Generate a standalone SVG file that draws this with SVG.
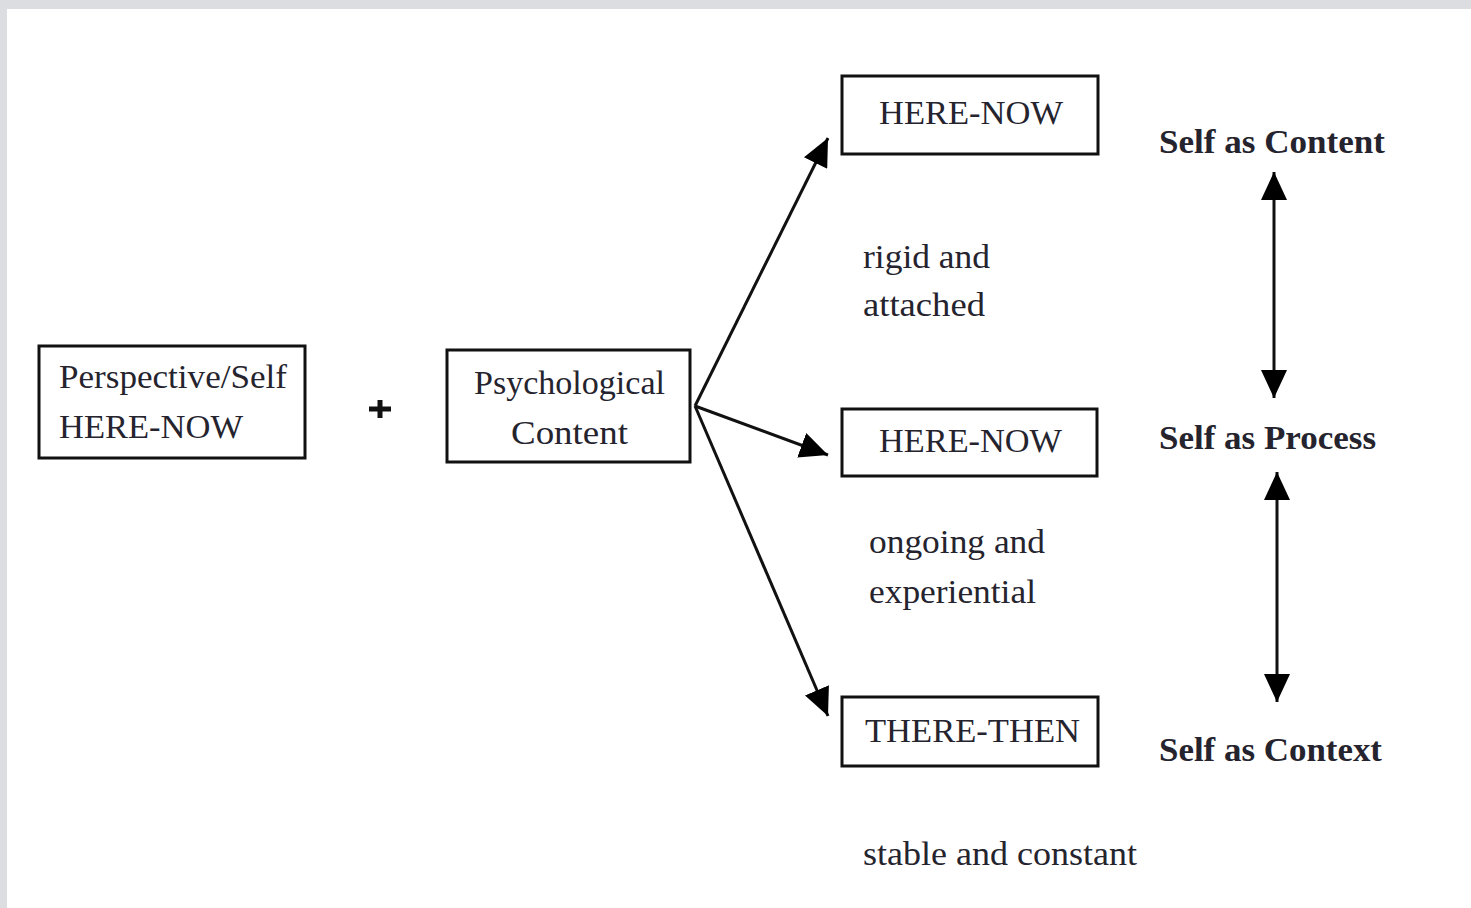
<svg xmlns="http://www.w3.org/2000/svg" width="1471" height="908" viewBox="0 0 1471 908">
<style>
.box{fill:#fff;stroke:#111;stroke-width:3}
.t{font-family:"Liberation Serif","Times New Roman",serif;font-size:33px;fill:#25242e}
.b{font-family:"Liberation Serif","Times New Roman",serif;font-size:33px;font-weight:bold;fill:#25242e}
.c{stroke:#111;stroke-width:3;fill:none}
</style>
<defs>
<marker id="ah" markerUnits="userSpaceOnUse" markerWidth="30" markerHeight="26" viewBox="0 0 30 26" refX="28" refY="13" orient="auto-start-reverse">
<path d="M0,0 L28,13 L0,26 Z" fill="#000"/>
</marker>
</defs>
<rect x="0" y="0" width="1471" height="908" fill="#dcdde1"/>
<rect x="7" y="9" width="1464" height="899" fill="#fff"/>
<g id="connectors">
<line class="c" x1="695" y1="406" x2="828" y2="138" marker-end="url(#ah)"/>
<line class="c" x1="695" y1="406" x2="828" y2="455" marker-end="url(#ah)"/>
<line class="c" x1="695" y1="406" x2="828" y2="716" marker-end="url(#ah)"/>
<line class="c" x1="1274" y1="172" x2="1274" y2="398" marker-start="url(#ah)" marker-end="url(#ah)"/>
<line class="c" x1="1277" y1="472" x2="1277" y2="702" marker-start="url(#ah)" marker-end="url(#ah)"/>
</g>
<g id="perspective">
<rect class="box" x="39" y="346" width="266" height="112"/>
<text class="t" x="59" y="388" textLength="228" lengthAdjust="spacingAndGlyphs">Perspective/Self</text>
<text class="t" x="59" y="438" textLength="184" lengthAdjust="spacingAndGlyphs">HERE-NOW</text>
</g>
<g id="plus">
<path d="M369,409 H391 M380,400 V418" stroke="#111" stroke-width="5" fill="none"/>
</g>
<g id="psych">
<rect class="box" x="447" y="350" width="243" height="112"/>
<text class="t" x="474" y="394" textLength="191" lengthAdjust="spacingAndGlyphs">Psychological</text>
<text class="t" x="511" y="444" textLength="117" lengthAdjust="spacingAndGlyphs">Content</text>
</g>
<g id="herenow1">
<rect class="box" x="842" y="76" width="256" height="78"/>
<text class="t" x="879" y="124" textLength="184" lengthAdjust="spacingAndGlyphs">HERE-NOW</text>
</g>
<g id="herenow2">
<rect class="box" x="842" y="409" width="255" height="67"/>
<text class="t" x="879" y="452" textLength="183" lengthAdjust="spacingAndGlyphs">HERE-NOW</text>
</g>
<g id="therethen">
<rect class="box" x="842" y="697" width="256" height="69"/>
<text class="t" x="865" y="742" textLength="215" lengthAdjust="spacingAndGlyphs">THERE-THEN</text>
</g>
<g id="labels">
<text class="t" x="863" y="268" textLength="127" lengthAdjust="spacingAndGlyphs">rigid and</text>
<text class="t" x="863" y="316" textLength="122" lengthAdjust="spacingAndGlyphs">attached</text>
<text class="t" x="869" y="553" textLength="176" lengthAdjust="spacingAndGlyphs">ongoing and</text>
<text class="t" x="869" y="603" textLength="167" lengthAdjust="spacingAndGlyphs">experiential</text>
<text class="t" x="863" y="865" textLength="274" lengthAdjust="spacingAndGlyphs">stable and constant</text>
<text class="b" x="1159" y="153" textLength="226" lengthAdjust="spacingAndGlyphs">Self as Content</text>
<text class="b" x="1159" y="449" textLength="217" lengthAdjust="spacingAndGlyphs">Self as Process</text>
<text class="b" x="1159" y="761" textLength="223" lengthAdjust="spacingAndGlyphs">Self as Context</text>
</g>
</svg>
